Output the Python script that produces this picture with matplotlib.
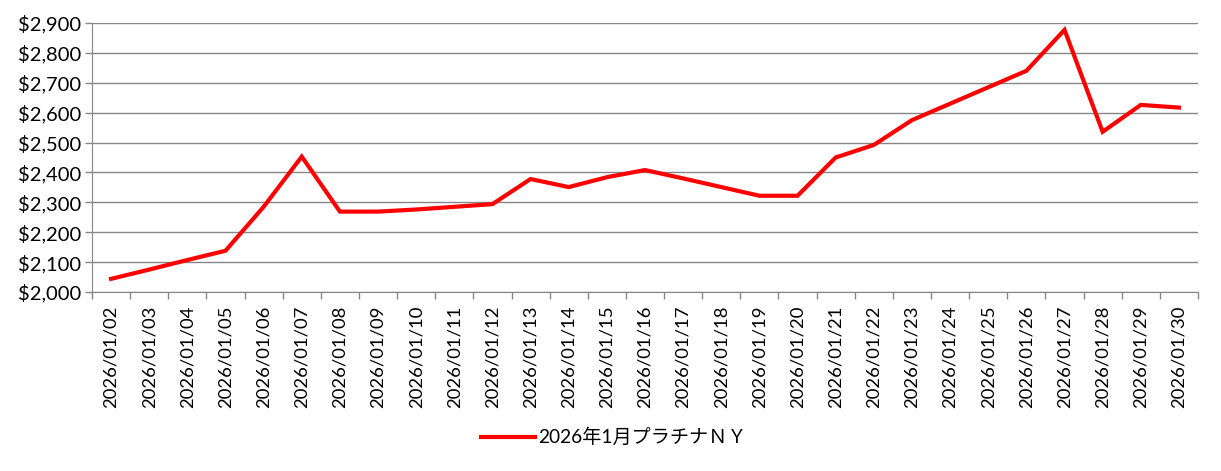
import numpy as np
import matplotlib
matplotlib.use("Agg")
import matplotlib.pyplot as plt
from matplotlib.ticker import FuncFormatter, MultipleLocator

plt.rcParams['font.family'] = ['Lato', 'Noto Sans CJK JP', 'DejaVu Sans']

# data
dates = ['2026/01/%02d' % d for d in range(2, 31)]
prices = [2044, 2075, 2107, 2138, 2285, 2453, 2269, 2269, 2276, 2285,
          2294, 2378, 2351, 2384, 2408, 2380, 2351, 2322, 2322, 2450,
          2492, 2575, 2630, 2685, 2740, 2877, 2536, 2626, 2617]
series_name = '2026年1月プラチナＮＹ'

gray = '#868686'

fig = plt.figure(figsize=(12.21, 4.71), dpi=100)
ax = fig.add_axes([92/1221, 1-292/471, (1198-92)/1221, (292-23)/471])

x = np.arange(len(dates))
ax.plot(x, prices, color='#ff0000', lw=3, solid_joinstyle='miter', label=series_name)

ax.set_xlim(-0.5, len(dates)-0.5)
ax.set_ylim(2000, 2900)
ax.yaxis.set_major_locator(MultipleLocator(100))
ax.yaxis.set_major_formatter(FuncFormatter(lambda v, p: '${:,.0f}'.format(v)))
ax.grid(axis='y', color=gray, lw=1)
ax.set_axisbelow(True)

ax.set_xticks(x)
ax.set_xticklabels(dates, rotation=90, fontsize=13.3)
ax.set_xticks(np.arange(-0.5, len(dates)), minor=True)
ax.tick_params(axis='x', which='major', length=0, pad=10)
ax.tick_params(axis='x', which='minor', length=5, color=gray, width=1)
ax.tick_params(axis='y', length=5, color=gray, width=1, labelsize=14.5, pad=3)

for s in ['top', 'right']:
    ax.spines[s].set_visible(False)
for s in ['left', 'bottom']:
    ax.spines[s].set_color(gray)

leg = fig.legend(loc='center', bbox_to_anchor=(614/1221, 1-437/471), frameon=False,
                 fontsize=13.8, handlelength=2.8, handletextpad=0.2)

fig.savefig('out.png', dpi=100)
